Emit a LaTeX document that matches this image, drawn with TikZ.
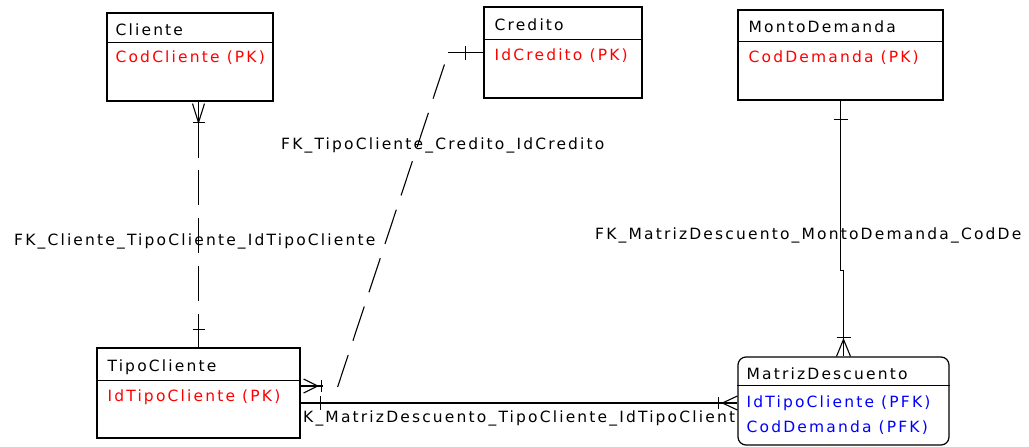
\documentclass[tikz,border=0pt]{standalone}
\usepackage{fontspec}
\setmainfont{DejaVu Sans}[LetterSpace=14]
\usetikzlibrary{calc, fit}
\definecolor{pkred}{HTML}{FF0000}
\definecolor{fkblue}{HTML}{0000FF}
\definecolor{edgeblack}{HTML}{000000}

\begin{document}
\begin{tikzpicture}[x=1pt, y=-1pt,
  entity/.style={draw=edgeblack, line width=1.2pt, fill=white, inner sep=0pt},
  title/.style={anchor=base west, inner sep=0pt, font=\fontsize{15.5}{18}\selectfont, text=black},
  pkattr/.style={title, text=pkred},
  fkattr/.style={title, text=fkblue},
  fklabel/.style={title},
  rel/.style={edgeblack, line width=1.1pt}]

% Canvas
\path[use as bounding box, clip] (0,0) rectangle (1029,447);
\fill[white] (0,0) rectangle (1029,447);

% Entities
\node[entity, fit={(107,13) (273,101)}] (cliente) {};
\node[entity, fit={(484,7) (642,98)}] (credito) {};
\node[entity, fit={(738,10) (943,100)}] (monto) {};
\node[entity, fit={(97,348) (300,438)}] (tipo) {};
\node[entity, rounded corners=8pt, fit={(738,357) (949,445)}] (matriz) {};

% Header separators
\draw[rel] ($(cliente.north west)+(0,30)$) -- ($(cliente.north east)+(0,30)$);
\draw[rel] ($(credito.north west)+(0,33)$) -- ($(credito.north east)+(0,33)$);
\draw[rel] ($(monto.north west)+(0,32)$) -- ($(monto.north east)+(0,32)$);
\draw[rel] ($(tipo.north west)+(0,33)$) -- ($(tipo.north east)+(0,33)$);
\draw[rel] ($(matriz.north west)+(0,29)$) -- ($(matriz.north east)+(0,29)$);

% Titles and keys
\node[title] (clienteT) at ($(cliente.north west)+(9,23)$) {Cliente};
\node[pkattr] (clientePK) at ($(cliente.north west)+(9,50)$) {CodCliente (PK)};
\node[title] (creditoT) at ($(credito.north west)+(11,24)$) {Credito};
\node[pkattr] (creditoPK) at ($(credito.north west)+(11,54)$) {IdCredito (PK)};
\node[title] (montoT) at ($(monto.north west)+(11,23)$) {MontoDemanda};
\node[pkattr] (montoPK) at ($(monto.north west)+(11,53)$) {CodDemanda (PK)};
\node[title] (tipoT) at ($(tipo.north west)+(11,24)$) {TipoCliente};
\node[pkattr] (tipoPK) at ($(tipo.north west)+(11,54)$) {IdTipoCliente (PK)};
\node[title] (matrizT) at ($(matriz.north west)+(9,23)$) {MatrizDescuento};
\node[fkattr] (matrizFK1) at ($(matriz.north west)+(9,51)$) {IdTipoCliente (PFK)};
\node[fkattr] (matrizFK2) at ($(matriz.north west)+(9,76)$) {CodDemanda (PFK)};

% Cliente -- TipoCliente
\coordinate (c1top) at (cliente.south -| tipo.north);
\coordinate (c1tick) at ($(c1top)+(0,21)$);
\draw[rel] (c1top) -- (c1tick);
\draw[rel] ($(c1top)+(-6,2)$) -- (c1tick) -- ($(c1top)+(6,2)$);
\draw[rel] ($(c1tick)+(-6,0)$) -- ($(c1tick)+(6,0)$);
\draw[rel, dash pattern=on 35pt off 12.75pt] (c1tick) -- (tipo.north);
\draw[rel] ($(tipo.north)+(-6,-18)$) -- ($(tipo.north)+(6,-18)$);
\node[fklabel] (lblCliente) at (14,245) {FK\_Cliente\_TipoCliente\_IdTipoCliente};

% TipoCliente -- Credito
\coordinate (c2a) at ($(credito.west)+(-35,0)$);
\coordinate (c2b) at ($(tipo.east)+(0,-7)$);
\coordinate (c2c) at ($(c2b)+(37,1)$);
\draw[rel] (credito.west) -- (c2a);
\draw[rel] ($(credito.west)+(-18,-7)$) -- ($(credito.west)+(-18,7)$);
\draw[rel, dash pattern=on 36pt off 15pt, dash phase=38.4pt] (c2a) -- (c2c);
\draw[rel] (c2b) -- ++(22,0);
\draw[rel] ($(c2b)+(3,-7)$) -- ($(c2b)+(17,0)$) -- ($(c2b)+(3,7)$);
\draw[rel] ($(c2b)+(21,-6)$) -- ($(c2b)+(21,6)$);
\node[fklabel] (lblCredito) at (281,149) {FK\_TipoCliente\_Credito\_IdCredito};

% TipoCliente -- MatrizDescuento
\coordinate (c3b) at ($(matriz.west)+(0,2)$);
\coordinate (c3a) at (tipo.east |- c3b);
\draw[rel] (c3a) -- (c3b);
\draw[rel] ($(c3a)+(20,-7)$) -- ($(c3a)+(20,7)$);
\draw[rel] ($(c3b)+(0,-7)$) -- ($(c3b)+(-15,0)$) -- ($(c3b)+(0,7)$);
\draw[rel] ($(c3b)+(-19,-6)$) -- ($(c3b)+(-19,6)$);
\node[fklabel] (lblMatrizTipo) at (303,422) {K\_MatrizDescuento\_TipoCliente\_IdTipoClient};

% MontoDemanda -- MatrizDescuento
\coordinate (c4j) at ($(monto.south)+(0,170)$);
\draw[rel] (monto.south) -- (c4j) -| (matriz.north);
\draw[rel] ($(monto.south)+(-7,19)$) -- ($(monto.south)+(7,19)$);
\draw[rel] ($(matriz.north)+(-7,0)$) -- ($(matriz.north)+(0,-17)$) -- ($(matriz.north)+(7,0)$);
\draw[rel] ($(matriz.north)+(-7,-19)$) -- ($(matriz.north)+(7,-19)$);
\node[fklabel] (lblMatrizMonto) at (595,239) {FK\_MatrizDescuento\_MontoDemanda\_CodDe};

\end{tikzpicture}
\end{document}
